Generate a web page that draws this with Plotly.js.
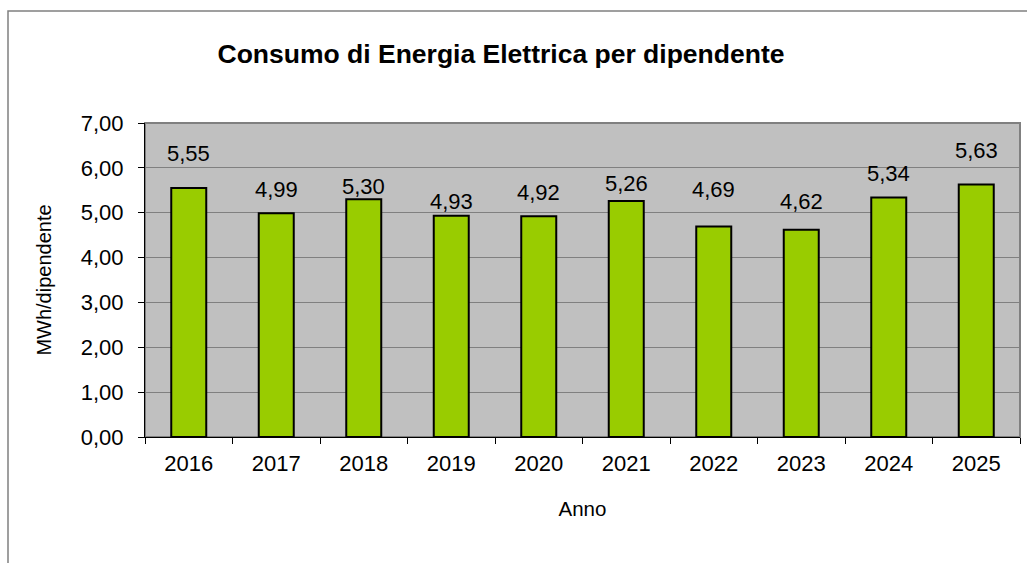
<!DOCTYPE html>
<html>
<head>
<meta charset="utf-8">
<script src="https://cdn.plot.ly/plotly-3.0.1.min.js"></script>
<style>
  html, body { margin: 0; padding: 0; background: #ffffff; }
  #chart { width: 1027px; height: 563px; }
</style>
</head>
<body>
<div id="chart"></div>
<script>
// ---- data ----
const years = ["2016", "2017", "2018", "2019", "2020", "2021", "2022", "2023", "2024", "2025"];
const consumoPerDipendente = [5.55, 4.99, 5.30, 4.93, 4.92, 5.26, 4.69, 4.62, 5.34, 5.63];
const yTickValues = [0, 1, 2, 3, 4, 5, 6, 7];

// label placement (pixel offset above bar top, as in the reference)
const labelOffsetPx = [35, 24, 13, 14, 24, 18, 37, 28, 24, 34];

const fmt = v => v.toFixed(2).replace('.', ',');

const FONT = "Liberation Sans, Arial, sans-serif";

// plot area in pixels
const W = 1027, H = 563;
const L = 145, R = 1020, T = 123, B = 437;
const pw = R - L, ph = B - T;
const px2x = p => (p - L) / pw;
const py2y = p => (B - p) / ph;

const trace = {
  type: 'bar',
  x: years,
  y: consumoPerDipendente,
  width: 0.4,
  marker: { color: '#99CC00', line: { color: '#000000', width: 2 } },
  hoverinfo: 'x+y'
};

// annotations placed by category index (numeric-looking category names would be read as indices)
const annotations = years.map((yr, i) => ({
  x: i,
  y: consumoPerDipendente[i],
  xref: 'x', yref: 'y',
  text: fmt(consumoPerDipendente[i]),
  showarrow: false,
  yanchor: 'middle',
  xanchor: 'center',
  yshift: labelOffsetPx[i],
  font: { family: FONT, size: 22, color: '#000000' }
}));

const layout = {
  width: W, height: H,
  margin: { l: L, r: W - R, t: T, b: H - B, pad: 0 },
  paper_bgcolor: '#ffffff',
  plot_bgcolor: '#C0C0C0',
  showlegend: false,
  font: { family: FONT, size: 22, color: '#000000' },
  title: {
    text: 'Consumo di Energia Elettrica per dipendente',
    font: { family: FONT, size: 26.5, color: '#000000', weight: 'bold' },
    x: 501 / W, xanchor: 'center',
    y: 1 - 54 / H, yanchor: 'middle',
    xref: 'container', yref: 'container'
  },
  xaxis: {
    type: 'category',
    range: [-0.5, years.length - 0.5],
    tickson: 'boundaries',
    tickangle: 0,
    ticks: 'outside', ticklen: 6, tickcolor: '#000000', tickwidth: 1,
    showline: true, linecolor: '#000000', linewidth: 1,
    showgrid: false,
    tickfont: { family: FONT, size: 22, color: '#000000' },
    ticklabelstandoff: 7,
    title: { text: 'Anno', font: { family: FONT, size: 20.5, color: '#000000' }, standoff: 26 },
    fixedrange: true
  },
  yaxis: {
    range: [0, 7],
    tickvals: yTickValues,
    ticktext: yTickValues.map(fmt),
    ticks: 'outside', ticklen: 6, tickcolor: '#000000', tickwidth: 1,
    showline: true, linecolor: '#000000', linewidth: 1,
    showgrid: true, gridcolor: '#808080', gridwidth: 1,
    zeroline: false,
    tickfont: { family: FONT, size: 22, color: '#000000' },
    ticklabelstandoff: 10,
    title: { text: 'MWh/dipendente', font: { family: FONT, size: 20, color: '#000000' }, standoff: 23 },
    fixedrange: true
  },
  shapes: [
    { type: 'rect', xref: 'paper', yref: 'paper', x0: 0, x1: 1, y0: 0, y1: 1,
      line: { color: '#808080', width: 2 }, fillcolor: 'rgba(0,0,0,0)', layer: 'below' },
    { type: 'rect', xref: 'paper', yref: 'paper',
      x0: px2x(8), x1: px2x(1040), y0: py2y(580), y1: py2y(11),
      line: { color: '#808080', width: 1.5 }, fillcolor: 'rgba(0,0,0,0)', layer: 'above' }
  ],
  annotations: annotations
};

Plotly.newPlot('chart', [trace], layout, { displayModeBar: false, staticPlot: true });
</script>
</body>
</html>
